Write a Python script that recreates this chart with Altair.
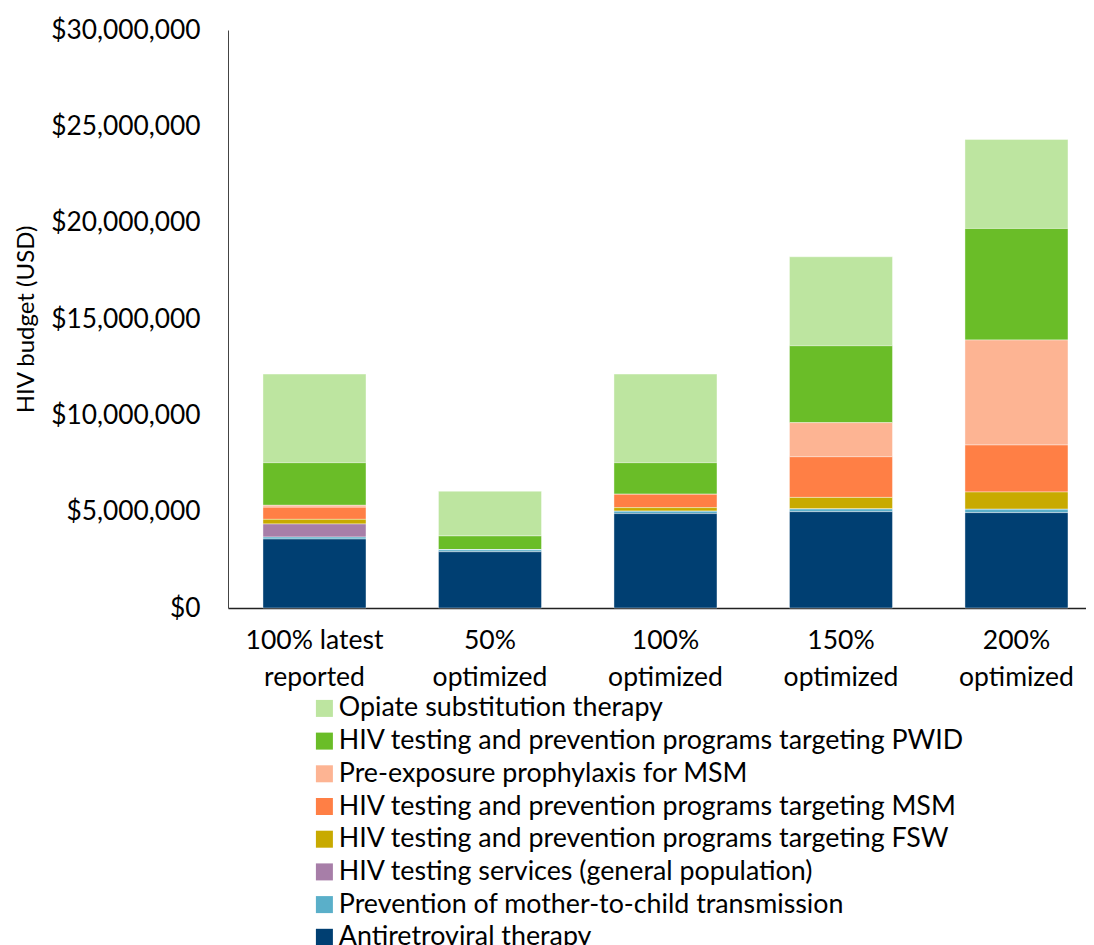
import altair as alt
import pandas as pd

categories = ["100% latest reported", "50% optimized", "100% optimized",
              "150% optimized", "200% optimized"]

programs = [
    "Opiate substitution therapy",
    "HIV testing and prevention programs targeting PWID",
    "Pre-exposure prophylaxis for MSM",
    "HIV testing and prevention programs targeting MSM",
    "HIV testing and prevention programs targeting FSW",
    "HIV testing services (general population)",
    "Prevention of mother-to-child transmission",
    "Antiretroviral therapy",
]
colors = ["#BDE5A0", "#6ABD28", "#FDB493", "#FF7F45",
          "#C8AA00", "#A77EA8", "#5AAFC9", "#003F72"]

# values in USD, per program, per scenario
ost   = [4600000, 2320000, 4600000, 4620000, 4620000]
pwid  = [2210000, 720000, 1640000, 3990000, 5790000]
prep  = [100000, 0, 0, 1770000, 5450000]
msm   = [630000, 0, 690000, 2110000, 2440000]
fsw   = [240000, 0, 190000, 600000, 900000]
hts   = [680000, 0, 0, 0, 0]
pmtct = [100000, 100000, 120000, 140000, 170000]
art   = [3580000, 2920000, 4900000, 5000000, 4950000]

series = [ost, pwid, prep, msm, fsw, hts, pmtct, art]

rows = []
for p_i, (prog, vals) in enumerate(zip(programs, series)):
    for c, v in zip(categories, vals):
        rows.append({"scenario": c, "program": prog, "value": v,
                     "stack": len(programs) - 1 - p_i})
df = pd.DataFrame(rows)

FONT = "Lato"

chart = alt.Chart(df).mark_bar(stroke="white", strokeWidth=0.4).encode(
    x=alt.X("scenario:N", sort=categories,
            scale=alt.Scale(paddingInner=0.413, paddingOuter=0.151, align=0.66),
            axis=alt.Axis(title=None, labelAngle=0, ticks=False,
                          labelFontSize=26.5, labelPadding=19, labelLineHeight=37,
                          labelColor="black", labelFont=FONT,
                          domainColor="#222222", domainWidth=1.5,
                          labelExpr="datum.label == '100% latest reported' ? ['100% latest', 'reported'] : split(datum.label, ' ')")),
    y=alt.Y("value:Q", stack="zero",
            scale=alt.Scale(domain=[0, 30000000], nice=False),
            axis=alt.Axis(title="HIV budget (USD)", format="$,.0f",
                          values=[0, 5000000, 10000000, 15000000, 20000000, 25000000, 30000000],
                          ticks=False, grid=False, labelFontSize=26.3, labelPadding=28,
                          labelColor="black", labelFont=FONT,
                          titleFontSize=24, titleFont=FONT, titleFontWeight="normal",
                          titleColor="black", titlePadding=12,
                          domainColor="#444444", domainWidth=1)),
    color=alt.Color("program:N",
                    scale=alt.Scale(domain=programs, range=colors),
                    legend=alt.Legend(title=None, orient="none", legendX=83, legendY=665,
                                      symbolType="square", symbolSize=289,
                                      symbolStrokeWidth=0, labelFontSize=26.8,
                                      labelFont=FONT, labelColor="black",
                                      labelLimit=1000, rowPadding=4.7, labelOffset=1)),
    order=alt.Order("stack:Q", sort="ascending"),
).properties(
    width=858, height=578,
    autosize=alt.AutoSizeParams(type="none"),
    padding={"left": 220, "top": 22, "right": 0, "bottom": 345},
).configure_view(stroke=None)

chart.save("out.html", embed_options={"renderer": "svg", "actions": False})
